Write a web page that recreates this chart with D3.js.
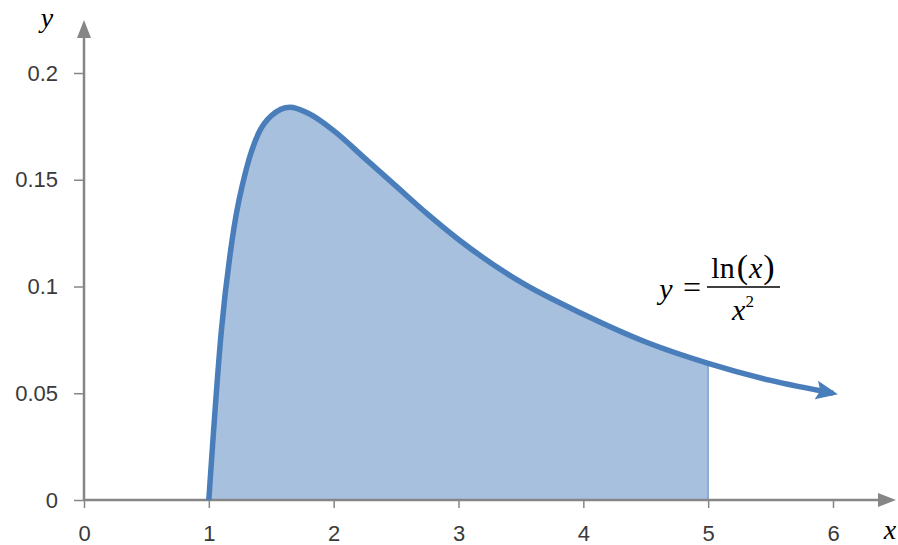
<!DOCTYPE html>
<html>
<head>
<meta charset="utf-8">
<script src="https://cdn.jsdelivr.net/npm/d3@7"></script>
<style>
  body { margin: 0; background: #fff; }
  svg { display: block; }
  .tick text { font-family: "Liberation Sans", Arial, sans-serif; font-size: 22px; fill: #3a3a3a; }
  .math { font-family: "Liberation Serif", "DejaVu Serif", serif; fill: #000; }
</style>
</head>
<body>
<svg id="chart" width="898" height="545"></svg>
<script>
// points
const xValues = [1, 1.1, 1.2, 1.3, 1.4, 1.5, 1.65, 1.8, 2, 2.25, 2.5, 2.75, 3, 3.5, 4, 4.5, 5, 5.5, 6];
const yValues = [0, 0.079, 0.127, 0.155, 0.172, 0.180, 0.184, 0.181, 0.173, 0.160, 0.147, 0.134, 0.122, 0.102, 0.087, 0.074, 0.064, 0.056, 0.050];
const xTicks = [0, 1, 2, 3, 4, 5, 6];
const yTicks = [0, 0.05, 0.1, 0.15, 0.2];
const shadeEnd = 5;

const axisColor = "#868686";
const lineColor = "#4a7ebb";
const fillColor = "#a7c0de";

const svg = d3.select("#chart");
const points = xValues.map((x, i) => ({ x: x, y: yValues[i] }));

const xScale = d3.scaleLinear().domain([0, 6]).range([84, 833]);
const yScale = d3.scaleLinear().domain([0, 0.2]).range([500, 73]);

const defs = svg.append("defs");
defs.append("marker")
    .attr("id", "curveArrow")
    .attr("markerUnits", "userSpaceOnUse")
    .attr("viewBox", "0 -10 22 20")
    .attr("markerWidth", 22)
    .attr("markerHeight", 20)
    .attr("refX", 17)
    .attr("refY", 0)
    .attr("orient", "auto")
    .append("path")
    .attr("d", "M0,-9.5L22,0L0,9.5L4,0Z")
    .attr("fill", lineColor);

const curve = d3.curveMonotoneX;

// shaded area under the curve up to x = 5
const area = d3.area()
    .x(d => xScale(d.x))
    .y0(yScale(0))
    .y1(d => yScale(d.y))
    .curve(curve);

svg.append("path")
    .datum(points.filter(d => d.x <= shadeEnd))
    .attr("d", area)
    .attr("fill", fillColor);

const endPoint = points.find(d => d.x === shadeEnd);
svg.append("line")
    .attr("x1", xScale(shadeEnd)).attr("x2", xScale(shadeEnd))
    .attr("y1", yScale(0)).attr("y2", yScale(endPoint.y))
    .attr("stroke", "#7fa2d0")
    .attr("stroke-width", 1.5);

// axes
const xAxis = svg.append("g")
    .attr("transform", `translate(0,${yScale(0)})`)
    .call(d3.axisBottom(xScale).tickValues(xTicks).tickSize(8).tickPadding(17).tickFormat(d3.format("d")));

const yAxis = svg.append("g")
    .attr("transform", `translate(${xScale(0)},0)`)
    .call(d3.axisLeft(yScale).tickValues(yTicks).tickSize(10).tickPadding(16).tickFormat(d => d === 0 ? "0" : String(d)));

[xAxis, yAxis].forEach(g => {
    g.select(".domain").remove();
    g.selectAll(".tick line").attr("stroke", axisColor).attr("stroke-width", 1.5);
});

// axis lines with arrows
svg.append("line")
    .attr("x1", xScale(0)).attr("x2", 880)
    .attr("y1", yScale(0)).attr("y2", yScale(0))
    .attr("stroke", axisColor).attr("stroke-width", 2.5);
svg.append("path")
    .attr("d", `M878,${yScale(0) - 7}L896,${yScale(0)}L878,${yScale(0) + 7}Z`)
    .attr("fill", axisColor);

svg.append("line")
    .attr("x1", xScale(0)).attr("x2", xScale(0))
    .attr("y1", yScale(0)).attr("y2", 36)
    .attr("stroke", axisColor).attr("stroke-width", 2.5);
svg.append("path")
    .attr("d", `M${xScale(0) - 7},38L${xScale(0)},20L${xScale(0) + 7},38Z`)
    .attr("fill", axisColor);

// the curve
const line = d3.line()
    .x(d => xScale(d.x))
    .y(d => yScale(d.y))
    .curve(curve);

svg.append("path")
    .datum(points)
    .attr("d", line)
    .attr("fill", "none")
    .attr("stroke", lineColor)
    .attr("stroke-width", 5.5)
    .attr("stroke-linejoin", "round")
    .attr("marker-end", "url(#curveArrow)");

// axis labels
svg.append("text").attr("class", "math")
    .attr("x", 47).attr("y", 27)
    .attr("text-anchor", "middle")
    .attr("font-size", 28).attr("font-style", "italic")
    .text("y");
svg.append("text").attr("class", "math")
    .attr("x", 890).attr("y", 539)
    .attr("text-anchor", "middle")
    .attr("font-size", 28).attr("font-style", "italic")
    .text("x");

// formula label
const formula = svg.append("g").attr("class", "math").attr("font-size", 30);
formula.append("text")
    .attr("x", 666).attr("y", 299)
    .attr("text-anchor", "middle")
    .attr("font-style", "italic")
    .text("y");
formula.append("text")
    .attr("x", 692).attr("y", 298)
    .attr("text-anchor", "middle")
    .attr("font-size", 32)
    .text("=");
formula.append("line")
    .attr("x1", 707).attr("x2", 780)
    .attr("y1", 287).attr("y2", 287)
    .attr("stroke", "#000").attr("stroke-width", 1.5);
const num = formula.append("text")
    .attr("x", 743).attr("y", 278)
    .attr("text-anchor", "middle");
num.append("tspan").text("ln");
num.append("tspan").attr("dx", 2).attr("font-size", 34).text("(");
num.append("tspan").attr("dx", 1).attr("font-style", "italic").text("x");
num.append("tspan").attr("dx", 1).attr("font-size", 34).text(")");
const den = formula.append("text")
    .attr("x", 743).attr("y", 320)
    .attr("text-anchor", "middle");
den.append("tspan").attr("font-style", "italic").text("x");
den.append("tspan").attr("font-size", 17).attr("dy", -13).text("2");
</script>
</body>
</html>
